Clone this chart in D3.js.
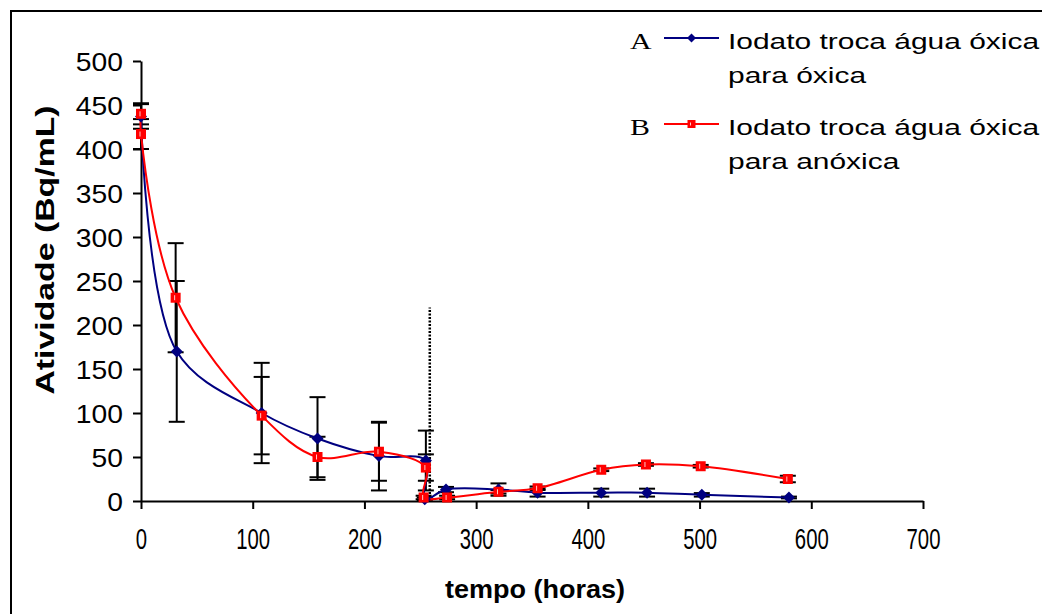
<!DOCTYPE html>
<html>
<head>
<meta charset="utf-8">
<script src="https://cdn.jsdelivr.net/npm/d3@7/dist/d3.min.js"></script>
<style>
  html, body { margin: 0; padding: 0; background: #fff; }
  svg { display: block; }
</style>
</head>
<body>
<svg id="chart" width="1042" height="614"></svg>
<script>
// Time (hours) and activity (Bq/mL) with standard deviations
const tempoA = [0, 32, 108, 158, 213, 255, 254, 273, 320, 355, 412, 453, 502, 580];
const ativA  = [437, 170, 100, 71, 51, 46, 2, 13, 13, 9.5, 9.5, 9.5, 7, 4];
const erroA  = [14, 80, 57, 47, 39, 34, 2, 3, 7, 4.5, 4.5, 4.5, 2, 1];

const tempoB = [0, 0, 31, 108, 158, 213, 255, 253, 274, 320, 355, 412, 452, 501, 579];
const ativB  = [440, 417, 231, 97, 50, 56, 38, 4, 4, 10.5, 14.5, 35.5, 41.5, 39.5, 25];
const erroB  = [12, 17, 62, 44, 23, 33, 15, 2, 2, 2, 2, 1.5, 1.5, 1.5, 3.7];

const xTicks = [0, 100, 200, 300, 400, 500, 600, 700];
const yTicks = [0, 50, 100, 150, 200, 250, 300, 350, 400, 450, 500];

const legendLetters = ["A", "B"];
const legendLines = [
  ["Iodato troca água óxica", "para óxica"],
  ["Iodato troca água óxica", "para anóxica"]
];
const trocaTempo = 258.5;   // moment of the water exchange
const trocaTopo = 220;

const BLUE = "#000080", RED = "#ff0000";

const svg = d3.select("#chart");

// outer frame
svg.append("rect")
  .attr("x", 11).attr("y", 11).attr("width", 1100).attr("height", 700)
  .attr("fill", "none").attr("stroke", "#000").attr("stroke-width", 2);

const x = d3.scaleLinear().domain([0, 700]).range([141, 923]);
const y = d3.scaleLinear().domain([0, 500]).range([501, 61]);

// stretch a text element along its own direction by a factor
function stretch(sel, f) {
  sel.each(function () {
    const w = this.getComputedTextLength();
    d3.select(this).attr("textLength", w * f).attr("lengthAdjust", "spacingAndGlyphs");
  });
}

// y axis
const gy = svg.append("g").attr("transform", "translate(141,0)")
  .call(d3.axisLeft(y).tickValues(yTicks).tickSize(8).tickSizeOuter(0).tickPadding(10));
gy.select(".domain").attr("stroke", "#000").attr("stroke-width", 2);
gy.selectAll(".tick line").attr("stroke", "#000").attr("stroke-width", 2);
gy.selectAll(".tick text")
  .attr("font-family", "Liberation Sans, Arial, sans-serif")
  .attr("font-size", 25).attr("fill", "#000").attr("dy", "0.36em");
stretch(gy.selectAll(".tick text"), 1.13);

// x axis
const gx = svg.append("g").attr("transform", "translate(0,501)")
  .call(d3.axisBottom(x).tickValues(xTicks).tickSize(8).tickSizeOuter(0).tickPadding(19));
gx.select(".domain").attr("stroke", "#000").attr("stroke-width", 2);
gx.selectAll(".tick line").attr("stroke", "#000").attr("stroke-width", 2);
gx.selectAll(".tick text")
  .attr("font-family", "Liberation Sans, Arial, sans-serif")
  .attr("font-size", 29).attr("fill", "#000");
stretch(gx.selectAll(".tick text"), 0.7);

// axis titles
const tx = svg.append("text")
  .attr("x", 535).attr("y", 598).attr("text-anchor", "middle")
  .attr("font-family", "Liberation Sans, Arial, sans-serif")
  .attr("font-weight", "bold").attr("font-size", 25)
  .text("tempo (horas)");
stretch(tx, 1.08);

const ty = svg.append("text")
  .attr("transform", "translate(54,250) rotate(-90)")
  .attr("text-anchor", "middle")
  .attr("font-family", "Liberation Sans, Arial, sans-serif")
  .attr("font-weight", "bold").attr("font-size", 26)
  .text("Atividade (Bq/mL)");
stretch(ty, 1.3);

// vertical dotted marker at the exchange
svg.append("line")
  .attr("x1", x(trocaTempo)).attr("x2", x(trocaTempo))
  .attr("y1", y(0)).attr("y2", y(trocaTopo))
  .attr("stroke", "#000").attr("stroke-width", 2.5).attr("stroke-dasharray", "2,1.5");

const serieA = tempoA.map((t, i) => ({ t, v: ativA[i], e: erroA[i] }));
const serieB = tempoB.map((t, i) => ({ t, v: ativB[i], e: erroB[i] }));

// error bars
function errorBars(data) {
  const g = svg.append("g").attr("stroke", "#000").attr("stroke-width", 2);
  data.forEach(d => {
    const cx = x(d.t);
    g.append("line").attr("x1", cx).attr("x2", cx).attr("y1", y(d.v - d.e)).attr("y2", y(d.v + d.e));
    [d.v - d.e, d.v + d.e].forEach(v => {
      g.append("line").attr("x1", cx - 8).attr("x2", cx + 8).attr("y1", y(v)).attr("y2", y(v));
    });
  });
}
errorBars(serieA);
errorBars(serieB);

// smoothed series lines
const line = d3.line().x(d => x(d.t)).y(d => y(d.v)).curve(d3.curveCatmullRom.alpha(0.5));
svg.append("path").datum(serieA).attr("d", line)
  .attr("fill", "none").attr("stroke", BLUE).attr("stroke-width", 2);
svg.append("path").datum(serieB).attr("d", line)
  .attr("fill", "none").attr("stroke", RED).attr("stroke-width", 2);

// markers
function drawDiamond(g, cx, cy, s) {
  g.append("path")
    .attr("d", `M${cx},${cy - s}L${cx + s},${cy}L${cx},${cy + s}L${cx - s},${cy}Z`)
    .attr("fill", BLUE);
}
function drawSquare(g, cx, cy, s) {
  g.append("rect").attr("x", cx - s).attr("y", cy - s).attr("width", 2 * s).attr("height", 2 * s)
    .attr("fill", RED);
  g.append("rect").attr("x", cx - 1.5).attr("y", cy - s + 2.5).attr("width", 1).attr("height", 2 * s - 5)
    .attr("fill", "#ffc8c8");
}
const gm = svg.append("g");
serieA.forEach(d => drawDiamond(gm, x(d.t), y(d.v), 6));
serieB.forEach(d => drawSquare(gm, x(d.t), y(d.v), 5));

// legend
const legend = svg.append("g");
const rowY = [49, 135];
legendLetters.forEach((L, i) => {
  const by = rowY[i];
  const lt = legend.append("text")
    .attr("x", 630).attr("y", by)
    .attr("font-family", "Liberation Serif, Times New Roman, serif")
    .attr("font-size", 23).text(L);
  stretch(lt, 1.3);
  const ly = by - 11;
  legend.append("line").attr("x1", 664).attr("x2", 719).attr("y1", ly).attr("y2", ly)
    .attr("stroke", i === 0 ? BLUE : RED).attr("stroke-width", 2);
  if (i === 0) drawDiamond(legend, 691.5, ly, 4.5);
  else drawSquare(legend, 691.5, ly, 4);
  legendLines[i].forEach((txt, k) => {
    const t = legend.append("text")
      .attr("x", 728).attr("y", by + k * 34)
      .attr("font-family", "Liberation Sans, Arial, sans-serif")
      .attr("font-size", 22).text(txt);
    stretch(t, 1.36);
  });
});
</script>
</body>
</html>
